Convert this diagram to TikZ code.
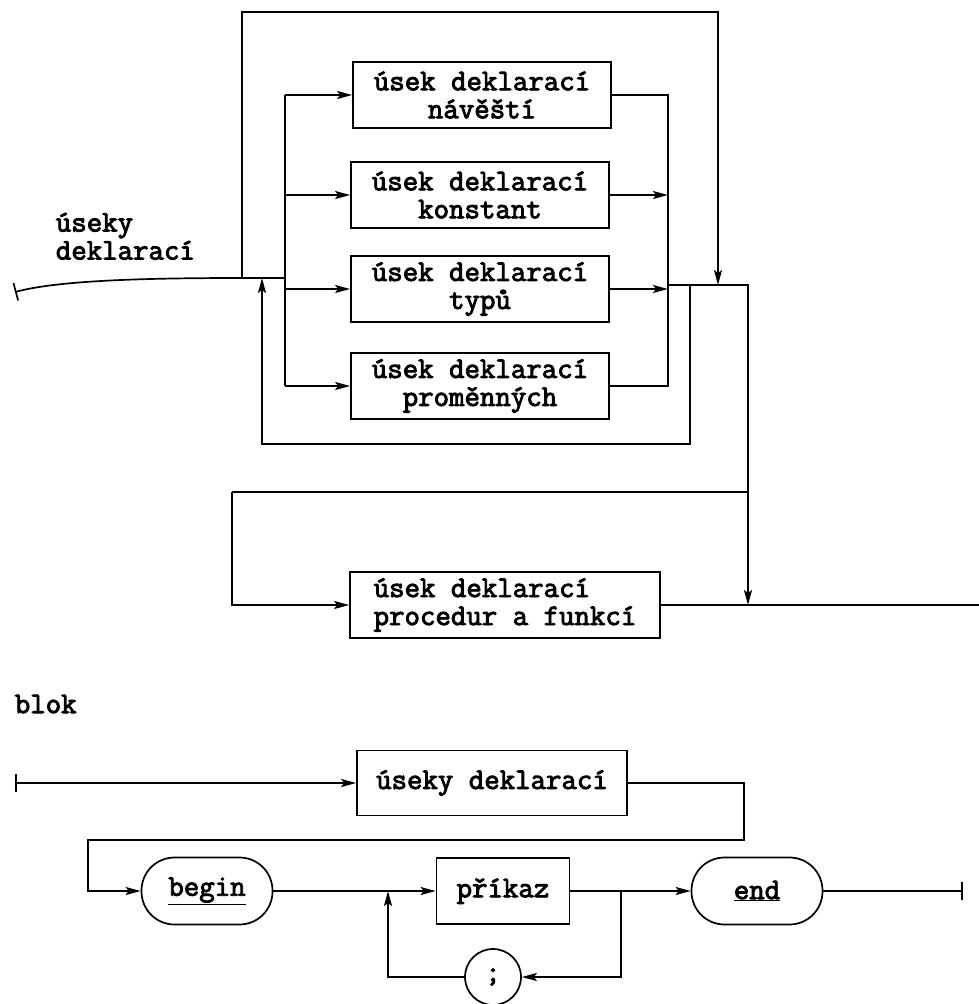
\documentclass[tikz,border=0pt]{standalone}
\usepackage{fontspec}
\newfontfamily\tw{Latin Modern Mono}[FakeBold=3]
\usetikzlibrary{arrows.meta,calc}
\begin{document}
\begin{tikzpicture}[x=1pt,y=-1pt,line width=1.7pt,
  txt/.style={font=\tw\fontsize{30}{28}\selectfont},
  arr/.style={-{Stealth[length=15pt,width=8pt,inset=3pt]}},
  tick/.style={{Bar[width=18pt]}-},
  box/.style={draw,rectangle,txt,inner sep=0pt,minimum width=258pt,minimum height=66pt,align=center},
  pill/.style={draw,rectangle,rounded corners=33pt,txt,inner sep=0pt,minimum width=131pt,minimum height=67pt},
  lbl/.style={txt,inner sep=0pt,align=left}]
\useasboundingbox (0,0) rectangle (979,1004);

% ---------- top diagram ----------
\node[lbl,anchor=north west] (t1) at (55,212) {úseky\\deklarací};
\node[box] (b1) at (482,95) {úsek deklarací\\návěští};
\node[box] (b2) at (480,195) {úsek deklarací\\konstant};
\node[box] (b3) at (480,289) {úsek deklarací\\typů};
\node[box] (b4) at (480,386) {úsek deklarací\\proměnných};
\node[box,minimum width=310pt,align=left] (pr) at (505,605) {úsek deklarací\\procedur a funkcí};

\coordinate (s1) at (15,292);
\coordinate (j0) at (242,278);
\coordinate (bx) at (285,278);
\coordinate (tp) at (718,12);
\coordinate (sk) at (718,285);
\coordinate (cx) at (668,285);
\coordinate (rl) at (690,285);
\coordinate (rt) at (748,285);
\coordinate (rlb) at (262,444);
\coordinate (lp) at (748,492);
\coordinate (ll) at (232,492);
\coordinate (fe) at (979,605);

\draw[tick] (s1) .. controls (60,280) and (150,278) .. (j0) -- (bx);
\draw (bx |- b1.west) -- (bx |- b4.west);
\draw[arr] (bx |- b1.west) -- (b1.west);
\draw[arr] (bx |- b2.west) -- (b2.west);
\draw[arr] (bx |- b3.west) -- (b3.west);
\draw[arr] (bx |- b4.west) -- (b4.west);
\draw[arr] (j0) |- (tp) -- (sk);
\draw (b1.east) -- (b1.east -| cx) -- (b4.east -| cx) -- (b4.east);
\draw[arr] (b2.east) -- (b2.east -| cx);
\draw[arr] (b3.east) -- (b3.east -| cx);
\draw (cx) -- (rt) -- (lp) -- (ll);
\draw[arr] (rl) |- (rlb) -- (rlb |- j0);
\draw[arr] (ll) |- (pr.west);
\draw[arr] (lp) -- (lp |- pr.east);
\draw (pr.east) -- (fe);

% ---------- bottom diagram ----------
\node[lbl,anchor=west] (t2) at (14,704) {blok};
\node[box,minimum width=270pt,minimum height=65pt] (ud) at (492,783) {úseky deklarací};
\node[pill] (bg) at (207,891) {\underline{begin}};
\node[box,minimum width=133pt] (pk) at (503,891) {příkaz};
\node[pill] (en) at (757,891) {\underline{end}};
\node[draw,circle,minimum size=56pt,inner sep=0pt,txt] (sc) at (493,977) {;};

\coordinate (b0) at (15,783);
\coordinate (ur) at (744,840);
\coordinate (ul) at (88,840);
\coordinate (ja) at (621,891);
\coordinate (jb) at (388,891);
\coordinate (ee) at (963,891);

\draw[{Bar[width=18pt]}-{Stealth[length=15pt,width=8pt,inset=3pt]}] (b0) -- (ud.west);
\draw[arr] (ud.east) -| (ur) -- (ul) |- (bg.west);
\draw[arr] (bg.east) -- (pk.west);
\draw[arr] (pk.east) -- (en.west);
\draw[arr] (ja) |- (sc.east);
\draw[arr] (sc.west) -| (jb);
\draw[-{Bar[width=18pt]}] (en.east) -- (ee);
\end{tikzpicture}
\end{document}
